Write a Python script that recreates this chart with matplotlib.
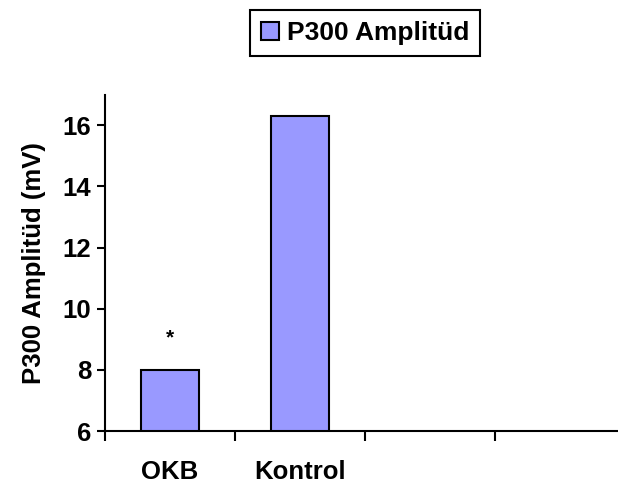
import matplotlib.pyplot as plt
from matplotlib.ticker import FixedLocator

plt.rcParams['font.family'] = ['Liberation Sans', 'DejaVu Sans']
plt.rcParams['font.weight'] = 'bold'
plt.rcParams['axes.labelweight'] = 'bold'

# data
groups = ['OKB', 'Kontrol', '', '']
values = [8.0, 16.3]
marks = ['*', '']
series_name = 'P300 Amplitüd'

fig = plt.figure(figsize=(6.18, 4.91), dpi=100)
ax = fig.add_axes([0.170, 0.122, 0.830, 0.685])

x = list(range(len(values)))
bars = ax.bar(x, values, width=0.44, bottom=0, color='#9999FF',
              edgecolor='black', linewidth=1.5, label=series_name)

for xi, v, m in zip(x, values, marks):
    if m:
        ax.annotate(m, (xi, v), xytext=(0, 16), textcoords='offset points',
                    ha='center', va='bottom', fontsize=15)

ax.set_ylim(6, 17)
ax.set_yticks([6, 8, 10, 12, 14, 16])
ax.set_xlim(-0.5, 3.445)

# category labels at centers, tick marks between categories
ax.set_xticks(range(len(groups)))
ax.set_xticklabels(groups)
ax.xaxis.set_minor_locator(FixedLocator([-0.5, 0.5, 1.5, 2.5]))
ax.tick_params(axis='x', which='major', length=0, pad=21, labelsize=18.5)
ax.tick_params(axis='x', which='minor', length=7, width=1.5, direction='out')
ax.tick_params(axis='y', length=6, width=1.5, labelsize=18.5, pad=4)

ax.spines['top'].set_visible(False)
ax.spines['right'].set_visible(False)
ax.spines['left'].set_linewidth(1.5)
ax.spines['bottom'].set_linewidth(1.5)

ax.set_ylabel('P300 Amplitüd (mV)', fontsize=18.5, labelpad=12)

leg = fig.legend(handles=[bars], loc='center', bbox_to_anchor=(365 / 618, 1 - 33 / 491),
                 fontsize=19, frameon=True, fancybox=False, framealpha=1,
                 handlelength=0.7, handleheight=0.7, handletextpad=0.3, borderpad=0.4)
leg.get_frame().set_edgecolor('black')
leg.get_frame().set_linewidth(1.5)

fig.savefig('out.png', dpi=100)
